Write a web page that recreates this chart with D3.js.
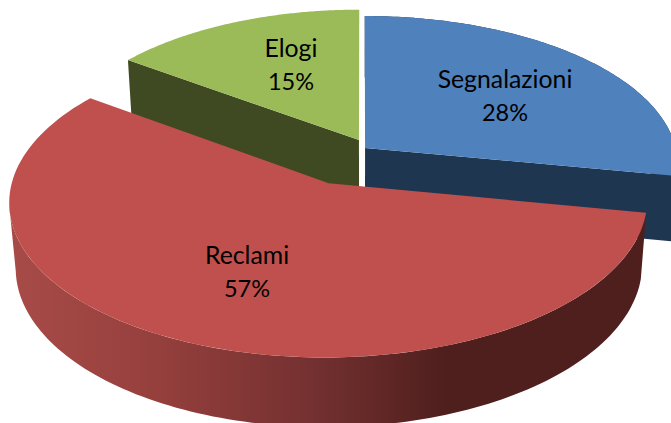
<!DOCTYPE html>
<html>
<head>
<meta charset="utf-8">
<script src="https://cdn.jsdelivr.net/npm/d3@7"></script>
<style>
  html, body { margin: 0; padding: 0; background: #fff; overflow: hidden; }
  svg { display: block; }
  text { font-family: Lato, "Noto Sans", sans-serif; fill: #000; text-anchor: middle; }
  .name { font-size: 24.8px; }
  .pct { font-size: 23.5px; }
</style>
</head>
<body>
<svg id="chart" width="671" height="423"></svg>
<script>
// data
const categories = ['Segnalazioni', 'Reclami', 'Elogi'];
const values = [28, 57, 15];
const percentLabels = ['28%', '57%', '15%'];

// colori
const topColors = ['#4f81bd', '#c0504d', '#9bbb59'];
const wallColors = ['#1f3650', 'url(#redWall)', '#3f4a22'];

// posizione delle etichette (centro del testo)
const labelX = [505, 247, 291];
const labelY = [88, 264, 57];
const lineGap = 33;

// spostamento delle fette rispetto al centro (esplosione), in raggi
const shiftX = [0.01, -0.106, -0.01];
const shiftD = [-0.03, -0.265, 0.024];
const widen = [1.015, 1.009, 1];

// parametri della prospettiva
const ox = 362, oy = 143.5;
const R = 305;       // raggio orizzontale
const A = 145.5;     // raggio verticale
const H = 64.6;      // spessore
const kx = 0.11;     // prospettiva in larghezza
const ky = 0.1105;   // prospettiva in altezza
const m = 0.018;     // prospettiva sullo spessore
const silhouette = 262 * Math.PI / 180; // oltre questo angolo il bordo non si vede

const svg = d3.select('#chart');

// proietta un punto del disco (X a destra, D in profondita, Z 0 sopra e 1 sotto)
function project(X, D, Z) {
    const wx = 1 + kx * D + m * Z;
    const wy = 1 + ky * D;
    return [ox + R * X / wx, oy - A * D / wy + H * Z / Math.sqrt(wy)];
}

function rimPoint(angle, i, Z) {
    return project(Math.sin(angle) * widen[i] + shiftX[i], Math.cos(angle) + shiftD[i], Z);
}

const line = d3.line();
const pie = d3.pie().sort(null).value(d => d);
const slices = pie(values);

// punti lungo l'arco tra due angoli
function arcPoints(a0, a1, i, Z) {
    const steps = 120;
    const t = d3.scaleLinear().domain([0, steps]).range([a0, a1]);
    return d3.range(steps + 1).map(j => rimPoint(t(j), i, Z));
}

function apex(i, Z) {
    return project(shiftX[i], shiftD[i], Z);
}

// gradiente del bordo rosso
const grad = svg.append('defs').append('linearGradient')
    .attr('id', 'redWall')
    .attr('gradientUnits', 'userSpaceOnUse')
    .attr('x1', 10).attr('x2', 650).attr('y1', 0).attr('y2', 0);
[[0, '#a84b48'], [0.22, '#96403d'], [0.48, '#733030'], [0.68, '#4f1f1d'], [1, '#4f1f1d']].forEach(d => {
    grad.append('stop').attr('offset', d[0]).attr('stop-color', d[1]);
});

const noStroke = sel => sel.attr('stroke', 'none');

// pareti di taglio, dietro a tutto
function cutWall(i, angle) {
    const pts = [apex(i, 0), rimPoint(angle, i, 0), rimPoint(angle, i, 1), apex(i, 1)];
    svg.append('path').attr('d', line(pts) + 'Z').attr('fill', wallColors[i]).call(noStroke);
}

function outerWall(a0, a1, i) {
    const pts = arcPoints(a0, a1, i, 0).concat(arcPoints(a0, a1, i, 1).reverse());
    svg.append('path').attr('d', line(pts) + 'Z').attr('fill', wallColors[i]).call(noStroke);
}

function topFace(s, i) {
    const pts = [apex(i, 0)].concat(arcPoints(s.startAngle, s.endAngle, i, 0));
    svg.append('path').attr('d', line(pts) + 'Z').attr('fill', topColors[i]).call(noStroke);
}

// blu e verde prima, il rosso esploso davanti
outerWall(slices[0].startAngle, slices[0].endAngle, 0);
cutWall(0, slices[0].endAngle);
cutWall(2, slices[2].startAngle);
topFace(slices[0], 0);
topFace(slices[2], 2);
outerWall(slices[1].startAngle, silhouette, 1);
topFace(slices[1], 1);

// etichette
categories.forEach((c, i) => {
    svg.append('text').attr('class', 'name').attr('x', labelX[i]).attr('y', labelY[i]).text(c);
    svg.append('text').attr('class', 'pct').attr('x', labelX[i]).attr('y', labelY[i] + lineGap).text(percentLabels[i]);
});
</script>
</body>
</html>
